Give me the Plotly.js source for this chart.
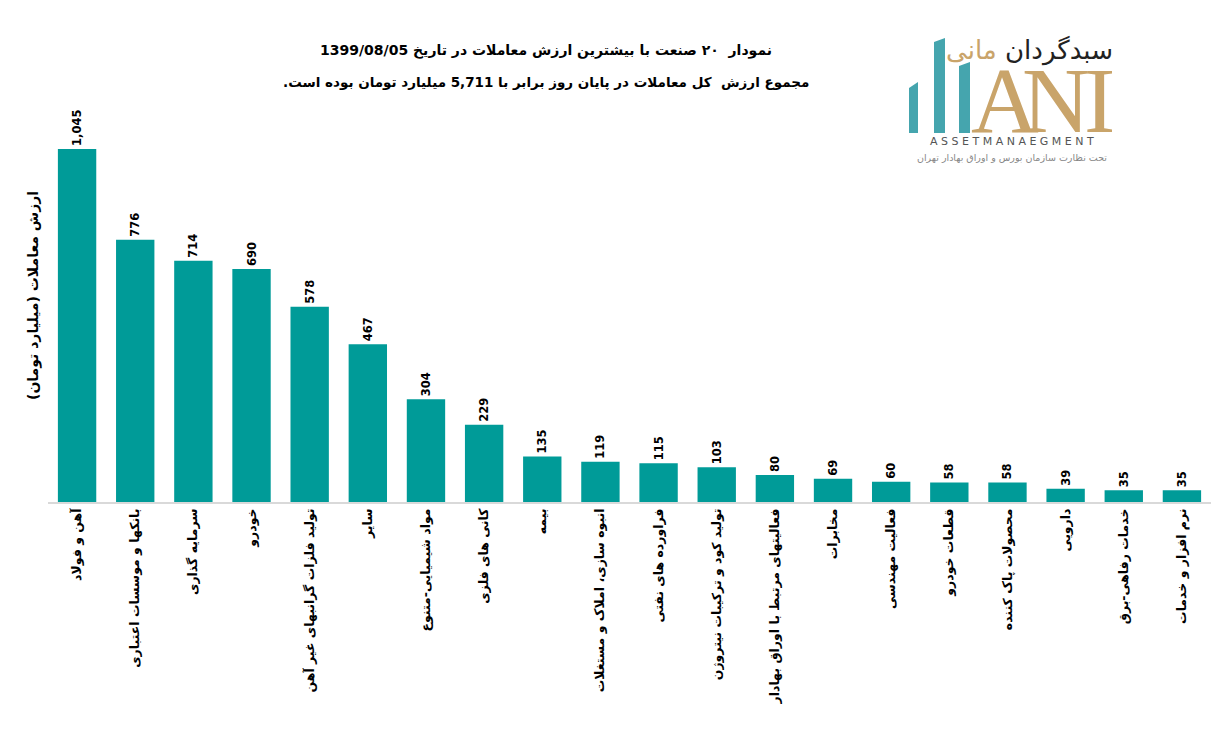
<!DOCTYPE html>
<html>
<head>
<meta charset="utf-8">
<script src="https://cdn.plot.ly/plotly-3.0.1.min.js"></script>
<style>html,body{margin:0;padding:0;background:#fff;}#chart{width:1213px;height:741px;}</style>
</head>
<body>
<div id="chart"></div>
<script>
// ---- data ----
const categories = [
  "آهن و فولاد",
  "بانکها و موسسات اعتباری",
  "سرمایه گذاری",
  "خودرو",
  "تولید فلزات گرانبهای غیر آهن",
  "سایر",
  "مواد شیمیایی-متنوع",
  "کانی های فلزی",
  "بیمه",
  "انبوه سازی، املاک و مستغلات",
  "فراورده های نفتی",
  "تولید کود و ترکیبات نیتروژن",
  "فعالیتهای مرتبط با اوراق بهادار",
  "مخابرات",
  "فعالیت مهندسی",
  "قطعات خودرو",
  "محصولات پاک کننده",
  "دارویی",
  "خدمات رفاهی-برق",
  "نرم افزار و خدمات"
];
const values = [1045, 776, 714, 690, 578, 467, 304, 229, 135, 119, 115, 103, 80, 69, 60, 58, 58, 39, 35, 35];
const titleLine1 = "\u200Fنمودار  ۲۰ صنعت با بیشترین ارزش معاملات در تاریخ 1399/08/05\u200F";
const titleLine2 = "\u200Fمجموع ارزش  کل معاملات در پایان روز برابر با 5,711 میلیارد تومان بوده است.\u200F";
const yTitle = "ارزش معاملات (میلیارد تومان)";

// ---- layout helpers (pixel -> paper) ----
const L = 48, R = 1211, T = 100, B = 502;
const px = x => (x - L) / (R - L);
const py = y => (B - y) / (B - T);
const fa = "DejaVu Sans, Noto Sans, sans-serif";
const teal = "#009B98";
const gold = "#C9A46A";

const trace = {
  type: "bar",
  x: categories,
  y: values,
  marker: {color: teal},
  width: 0.66,
  text: values.map(v => v.toLocaleString("en-US")),
  textposition: "outside",
  textangle: -90,
  cliponaxis: false,
  textfont: {family: fa, size: 11.5, color: "#000", weight: "bold"},
  hoverinfo: "x+y"
};

function logoBar(x0, x1, yTopL, yTopR, yBot) {
  return {type: "path", xref: "paper", yref: "paper",
    path: `M ${px(x0)} ${py(yBot)} L ${px(x0)} ${py(yTopL)} L ${px(x1)} ${py(yTopR)} L ${px(x1)} ${py(yBot)} Z`,
    fillcolor: "#45A5AE", line: {width: 0}};
}
function logoLetter(ch, x) {
  return {xref: "paper", yref: "paper", x: px(x), y: py(133), text: ch, showarrow: false,
    font: {family: "Liberation Serif, serif", size: 94, color: gold}, xanchor: "center", yanchor: "bottom", yshift: -21};
}

const layout = {
  width: 1213, height: 741,
  margin: {l: L, r: 1213 - R, t: T, b: 741 - B},
  paper_bgcolor: "#fff", plot_bgcolor: "#fff",
  showlegend: false,
  bargap: 0.34,
  xaxis: {
    type: "category",
    tickangle: -90,
    tickfont: {family: fa, size: 12.5, color: "#000", weight: "bold"},
    showline: true, linecolor: "#d9d9d9", linewidth: 1.5,
    ticks: "", showgrid: false, zeroline: false, fixedrange: true,
    automargin: false
  },
  yaxis: {
    range: [0, 1190], visible: false, showgrid: false, zeroline: false, fixedrange: true
  },
  shapes: [
    logoBar(909, 918, 88, 82, 133),
    logoBar(934, 945, 42, 38, 133),
    logoBar(959, 970, 66, 62, 133)
  ],
  annotations: [
    {xref: "paper", yref: "paper", x: px(546), y: py(50), text: titleLine1, showarrow: false,
     font: {family: fa, size: 14, color: "#000", weight: "bold"}, xanchor: "center", yanchor: "middle"},
    {xref: "paper", yref: "paper", x: px(546), y: py(82), text: titleLine2, showarrow: false,
     font: {family: fa, size: 13.5, color: "#000", weight: "bold"}, xanchor: "center", yanchor: "middle"},
    {xref: "paper", yref: "paper", x: px(33), y: py(296), text: yTitle, showarrow: false,
     textangle: -90, font: {family: fa, size: 14, color: "#000", weight: "bold"}, xanchor: "center", yanchor: "middle"},
    // logo texts
    {xref: "paper", yref: "paper", x: px(1115), y: py(50),
     text: "سبدگردان <span style='color:" + gold + "'>مانی</span>", showarrow: false,
     font: {family: fa, size: 26, color: "#222"}, xanchor: "right", yanchor: "middle"},
    logoLetter("A", 1005),
    logoLetter("N", 1056),
    logoLetter("I", 1099),
    {xref: "paper", yref: "paper", x: px(1012), y: py(141), text: "A S S E T M A N A E G M E N T", showarrow: false,
     font: {family: "DejaVu Sans, sans-serif", size: 11, color: "#555"}, xanchor: "center", yanchor: "middle"},
    {xref: "paper", yref: "paper", x: px(1012), y: py(157), text: "تحت نظارت سازمان بورس و اوراق بهادار تهران", showarrow: false,
     font: {family: fa, size: 9.5, color: "#888"}, xanchor: "center", yanchor: "middle"}
  ]
};

Plotly.newPlot("chart", [trace], layout, {displayModeBar: false, staticPlot: true});
</script>
</body>
</html>
